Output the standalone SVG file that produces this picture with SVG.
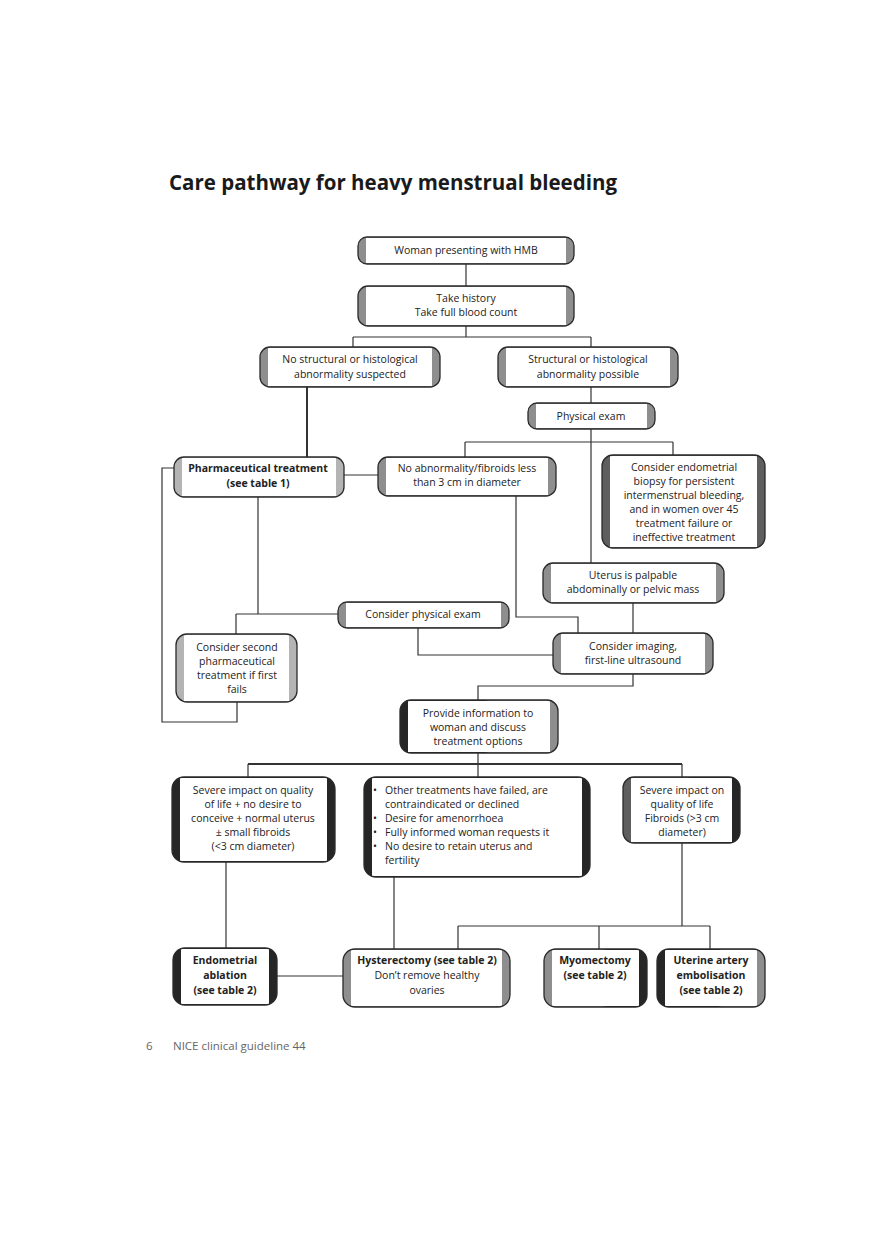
<svg xmlns="http://www.w3.org/2000/svg" width="882" height="1247" viewBox="0 0 882 1247">
<style>
.bg{fill:#fff}
.fr{fill:none;stroke:#2a2a2a;stroke-width:1.3}
.cg{fill:#8e8e8e}
.cl{fill:#b4b4b4}
.cm{fill:#5e5e5e}
.cd{fill:#262626}
.in{fill:#fff}
.t{font-family:'Open Sans','Noto Sans','DejaVu Sans',sans-serif;font-size:10.5px;fill:#222;text-anchor:middle}
.s{text-anchor:start}
.b{font-weight:bold}
.c{fill:none;stroke:#333;stroke-width:1.2}
.k{stroke-width:2}
.title{font-family:'Open Sans','Noto Sans','DejaVu Sans',sans-serif;font-size:21px;font-weight:bold;fill:#1a1a1a}
.foot{font-family:'Open Sans','Noto Sans','DejaVu Sans',sans-serif;font-size:11.5px;fill:#666}
</style>
<rect class="bg" x="0" y="0" width="882" height="1247"/>
<text class="title" x="169" y="190" textLength="448" lengthAdjust="spacingAndGlyphs">Care pathway for heavy menstrual bleeding</text>

<g id="connectors">
<path class="c" d="M466 264V286"/>
<path class="c" d="M466 326V337M353 337H591M353 337V347M591 337V347"/>
<path class="c k" d="M307 387V457"/>
<path class="c" d="M591 387V403"/>
<path class="c" d="M591 429V563M465 442H673M465 442V457M673 442V455"/>
<path class="c" d="M344 475H378"/>
<path class="c" d="M174 468H162V722H237V702"/>
<path class="c" d="M258 497V614M236 614H338M236 614V634"/>
<path class="c" d="M418 628V655H553"/>
<path class="c" d="M516 496V617H578V633"/>
<path class="c" d="M633 603V633"/>
<path class="c" d="M633 674V686H478V700"/>
<path class="c" d="M478 753V764M478 764V777M248 777V764M682 764V777"/>
<path class="c k" d="M248 764H682"/>
<path class="c" d="M226 862V948"/>
<path class="c" d="M277 976H343"/>
<path class="c" d="M394 877V949"/>
<path class="c" d="M682 843V926M458 926H710M458 926V949M599 926V949M710 926V949"/>
</g>

<g id="n-woman">
<rect class="cg" x="358" y="237" width="216" height="27" rx="9"/>
<rect class="in" x="366" y="238" width="200" height="25"/>
<rect class="fr" x="358" y="237" width="216" height="27" rx="9"/>
<text class="t" x="466" y="254">Woman presenting with HMB</text>
</g>

<g id="n-history">
<rect class="cg" x="358" y="286" width="216" height="40" rx="10"/>
<rect class="in" x="366" y="287" width="200" height="38"/>
<rect class="fr" x="358" y="286" width="216" height="40" rx="10"/>
<text class="t" x="466" y="302">Take history</text>
<text class="t" x="466" y="316">Take full blood count</text>
</g>

<g id="n-nostruct">
<rect class="cg" x="260" y="347" width="180" height="40" rx="10"/>
<rect class="in" x="268" y="348" width="164" height="38"/>
<rect class="fr" x="260" y="347" width="180" height="40" rx="10"/>
<text class="t" x="350" y="363">No structural or histological</text>
<text class="t" x="350" y="378">abnormality suspected</text>
</g>

<g id="n-struct">
<rect class="cg" x="498" y="347" width="180" height="40" rx="10"/>
<rect class="in" x="506" y="348" width="164" height="38"/>
<rect class="fr" x="498" y="347" width="180" height="40" rx="10"/>
<text class="t" x="588" y="363">Structural or histological</text>
<text class="t" x="588" y="378">abnormality possible</text>
</g>

<g id="n-physexam">
<rect class="cg" x="528" y="403" width="127" height="26" rx="9"/>
<rect class="in" x="536" y="404" width="111" height="24"/>
<rect class="fr" x="528" y="403" width="127" height="26" rx="9"/>
<text class="t" x="591" y="420">Physical exam</text>
</g>

<g id="n-pharma">
<rect class="cl" x="174" y="457" width="170" height="40" rx="10"/>
<rect class="in" x="182" y="458" width="154" height="38"/>
<rect class="fr" x="174" y="457" width="170" height="40" rx="10"/>
<text class="t b" x="258" y="472">Pharmaceutical treatment</text>
<text class="t b" x="258" y="487">(see table 1)</text>
</g>

<g id="n-noabn">
<rect class="cg" x="378" y="457" width="178" height="39" rx="10"/>
<rect class="in" x="386" y="458" width="162" height="37"/>
<rect class="fr" x="378" y="457" width="178" height="39" rx="10"/>
<text class="t" x="467" y="472">No abnormality/fibroids less</text>
<text class="t" x="467" y="486">than 3 cm in diameter</text>
</g>

<g id="n-biopsy">
<rect class="cm" x="602" y="455" width="163" height="93" rx="11"/>
<rect class="in" x="610" y="456" width="147" height="91"/>
<rect class="fr" x="602" y="455" width="163" height="93" rx="11"/>
<text class="t" x="684" y="471">Consider endometrial</text>
<text class="t" x="684" y="485">biopsy for persistent</text>
<text class="t" x="684" y="499">intermenstrual bleeding,</text>
<text class="t" x="684" y="513">and in women over 45</text>
<text class="t" x="684" y="527">treatment failure or</text>
<text class="t" x="684" y="541">ineffective treatment</text>
</g>

<g id="n-uterus">
<rect class="cg" x="543" y="563" width="181" height="40" rx="10"/>
<rect class="in" x="551" y="564" width="165" height="38"/>
<rect class="fr" x="543" y="563" width="181" height="40" rx="10"/>
<text class="t" x="633" y="579">Uterus is palpable</text>
<text class="t" x="633" y="593">abdominally or pelvic mass</text>
</g>

<g id="n-cpe">
<rect class="cg" x="338" y="602" width="171" height="26" rx="9"/>
<rect class="in" x="346" y="603" width="155" height="24"/>
<rect class="fr" x="338" y="602" width="171" height="26" rx="9"/>
<text class="t" x="423" y="618">Consider physical exam</text>
</g>

<g id="n-second">
<rect class="cl" x="176" y="634" width="121" height="68" rx="11"/>
<rect class="in" x="184" y="635" width="105" height="66"/>
<rect class="fr" x="176" y="634" width="121" height="68" rx="11"/>
<text class="t" x="237" y="651">Consider second</text>
<text class="t" x="237" y="665">pharmaceutical</text>
<text class="t" x="237" y="679">treatment if first</text>
<text class="t" x="237" y="693">fails</text>
</g>

<g id="n-imaging">
<rect class="cg" x="553" y="633" width="160" height="41" rx="10"/>
<rect class="in" x="561" y="634" width="144" height="39"/>
<rect class="fr" x="553" y="633" width="160" height="41" rx="10"/>
<text class="t" x="633" y="650">Consider imaging,</text>
<text class="t" x="633" y="664">first-line ultrasound</text>
</g>

<g id="n-provide">
<rect class="cd" x="400" y="700" width="158" height="53" rx="11"/>
<rect class="cg" x="479" y="700" width="79" height="53" rx="11"/>
<rect class="in" x="408" y="701" width="142" height="51"/>
<rect class="fr" x="400" y="700" width="158" height="53" rx="11"/>
<text class="t" x="478" y="717">Provide information to</text>
<text class="t" x="478" y="731">woman and discuss</text>
<text class="t" x="478" y="745">treatment options</text>
</g>

<g id="n-severe-left">
<rect class="cd" x="172" y="777" width="163" height="85" rx="12"/>
<rect class="in" x="180" y="778" width="147" height="83"/>
<rect class="fr" x="172" y="777" width="163" height="85" rx="12"/>
<text class="t" x="253" y="794">Severe impact on quality</text>
<text class="t" x="253" y="808">of life + no desire to</text>
<text class="t" x="253" y="822">conceive + normal uterus</text>
<text class="t" x="253" y="836">± small fibroids</text>
<text class="t" x="253" y="850">(&lt;3 cm diameter)</text>
</g>

<g id="n-criteria">
<rect class="cd" x="364" y="777" width="226" height="100" rx="12"/>
<rect class="in" x="372" y="778" width="210" height="98"/>
<rect class="fr" x="364" y="777" width="226" height="100" rx="12"/>
<text class="t s" x="373" y="794">•</text>
<text class="t s" x="385" y="794">Other treatments have failed, are</text>
<text class="t s" x="385" y="808">contraindicated or declined</text>
<text class="t s" x="373" y="822">•</text>
<text class="t s" x="385" y="822">Desire for amenorrhoea</text>
<text class="t s" x="373" y="836">•</text>
<text class="t s" x="385" y="836">Fully informed woman requests it</text>
<text class="t s" x="373" y="850">•</text>
<text class="t s" x="385" y="850">No desire to retain uterus and</text>
<text class="t s" x="385" y="864">fertility</text>
</g>

<g id="n-severe-right">
<rect class="cm" x="623" y="777" width="117" height="66" rx="11"/>
<rect class="cd" x="681" y="777" width="59" height="66" rx="11"/>
<rect class="in" x="631" y="778" width="101" height="64"/>
<rect class="fr" x="623" y="777" width="117" height="66" rx="11"/>
<text class="t" x="682" y="794">Severe impact on</text>
<text class="t" x="682" y="808">quality of life</text>
<text class="t" x="682" y="822">Fibroids (&gt;3 cm</text>
<text class="t" x="682" y="836">diameter)</text>
</g>

<g id="n-ablation">
<rect class="cd" x="173" y="948" width="104" height="57" rx="12"/>
<rect class="in" x="181" y="949" width="88" height="55"/>
<rect class="fr" x="173" y="948" width="104" height="57" rx="12"/>
<text class="t b" x="225" y="964">Endometrial</text>
<text class="t b" x="225" y="979">ablation</text>
<text class="t b" x="225" y="994">(see table 2)</text>
</g>

<g id="n-hysterectomy">
<rect class="cg" x="343" y="949" width="167" height="58" rx="12"/>
<rect class="in" x="351" y="950" width="151" height="56"/>
<rect class="fr" x="343" y="949" width="167" height="58" rx="12"/>
<text class="t b" x="427" y="964">Hysterectomy (see table 2)</text>
<text class="t" x="427" y="979">Don’t remove healthy</text>
<text class="t" x="427" y="994">ovaries</text>
</g>

<g id="n-myomectomy">
<rect class="cg" x="544" y="949" width="103" height="58" rx="12"/>
<rect class="cd" x="596" y="949" width="51" height="58" rx="12"/>
<rect class="in" x="552" y="950" width="87" height="56"/>
<rect class="fr" x="544" y="949" width="103" height="58" rx="12"/>
<text class="t b" x="595" y="964">Myomectomy</text>
<text class="t b" x="595" y="979">(see table 2)</text>
</g>

<g id="n-uae">
<rect class="cd" x="657" y="949" width="108" height="58" rx="12"/>
<rect class="cg" x="711" y="949" width="54" height="58" rx="12"/>
<rect class="in" x="665" y="950" width="92" height="56"/>
<rect class="fr" x="657" y="949" width="108" height="58" rx="12"/>
<text class="t b" x="711" y="964">Uterine artery</text>
<text class="t b" x="711" y="979">embolisation</text>
<text class="t b" x="711" y="994">(see table 2)</text>
</g>

<text class="foot" x="146" y="1050">6</text>
<text class="foot" x="173" y="1050">NICE clinical guideline 44</text>
</svg>
